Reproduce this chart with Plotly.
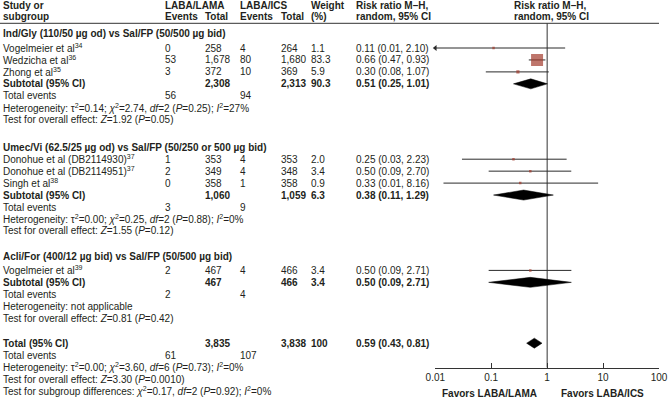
import plotly.graph_objects as go

# ---- data ----
groups = ["Ind/Gly (110/50 µg od) vs Sal/FP (50/500 µg bid)",
          "Umec/Vi (62.5/25 µg od) vs Sal/FP (50/250 or 500 µg bid)",
          "Acli/For (400/12 µg bid) vs Sal/FP (50/500 µg bid)"]

study_names = ["Vogelmeier et al", "Wedzicha et al", "Zhong et al",
               "Donohue et al (DB2114930)", "Donohue et al (DB2114951)",
               "Singh et al", "Vogelmeier et al"]
study_refs = ["34", "36", "35", "37", "37", "38", "39"]
study_group = [0, 0, 0, 1, 1, 1, 2]
lama_events = [0, 53, 3, 1, 2, 0, 2]
lama_total = [258, 1678, 372, 353, 349, 358, 467]
ics_events = [4, 80, 10, 4, 4, 1, 4]
ics_total = [264, 1680, 369, 353, 348, 358, 466]
weight = [1.1, 83.3, 5.9, 2.0, 3.4, 0.9, 3.4]
rr = [0.11, 0.66, 0.30, 0.25, 0.50, 0.33, 0.50]
# lower limits: both print as 0.01, but the first runs off the axis (arrow)
rr_lo = [0.006, 0.47, 0.08, 0.03, 0.09, 0.014, 0.09]
rr_hi = [2.10, 0.93, 1.07, 2.23, 2.70, 8.16, 2.71]

sub_lama_total = [2308, 1060, 467]
sub_ics_total = [2313, 1059, 466]
sub_weight = [90.3, 6.3, 3.4]
sub_lama_events = [56, 3, 2]
sub_ics_events = [94, 9, 4]
sub_rr = [0.51, 0.38, 0.50]
sub_lo = [0.25, 0.11, 0.09]
sub_hi = [1.01, 1.29, 2.71]
sub_tau2 = [0.14, 0.00, None]
sub_chi2 = [2.74, 0.25, None]
sub_df = [2, 2, None]
sub_p = [0.25, 0.88, None]
sub_i2 = [27, 0, None]
sub_z = [1.92, 1.55, 0.81]
sub_zp = ["0.05", "0.12", "0.42"]

tot_lama_total, tot_ics_total, tot_weight = 3835, 3838, 100
tot_lama_events, tot_ics_events = 61, 107
tot_rr, tot_lo, tot_hi = 0.59, 0.43, 0.81
tot_tau2, tot_chi2, tot_df, tot_p, tot_i2 = 0.00, 3.60, 6, 0.73, 0
tot_z, tot_zp = 3.30, "0.0010"
diff_chi2, diff_df, diff_p, diff_i2 = 0.17, 2, 0.92, 0

ticks = [0.01, 0.1, 1, 10, 100]
tick_labels = ["0.01", "0.1", "1", "10", "100"]

# ---- style ----
W, H = 668, 400
TXT = "#231f20"
FONT = "Liberation Sans, Arial, sans-serif"
FS = 10
BOX = "#a23b2c"
STEP = 11.95
TITLE_GAP = [14.5, 11.5, 13.5]
GROUP_GAP = [0, 28, 26]
TOTAL_GAP = 25
AX_Y = 367.5
X0, X1 = 435.3, 659
COL_EV1, COL_T1, COL_EV2, COL_T2, COL_W, COL_RR = 163, 203, 238, 279, 309, 354

annots = []


def txt(x, y, s, bold=False, anchor="left"):
    if bold:
        s = "<b>" + s + "</b>"
    annots.append(dict(x=x / W, y=y, xref="paper", yref="y", text=s,
                       showarrow=False, xanchor=anchor, yanchor="middle",
                       font=dict(family=FONT, size=FS, color=TXT)))


def het_text(tau2, chi2, df, p, i2):
    return ("Heterogeneity: τ<sup>2</sup>=%.2f; <i>χ</i><sup>2</sup>=%.2f, "
            "<i>df</i>=%d (<i>P</i>=%.2f); <i>I</i><sup>2</sup>=%d%%" % (tau2, chi2, df, p, i2))


def ci_text(a, b, c):
    return "%.2f (%.2f, %.2f)" % (a, b, c)


# header
for yy, a, b in [(5, "Study or", "LABA/LAMA"), (16.5, "subgroup", "Events")]:
    txt(1, yy, a, True)
    txt(COL_EV1, yy, b, True)
txt(COL_T1, 16.5, "Total", True)
txt(COL_EV2, 5, "LABA/ICS", True)
txt(COL_EV2, 16.5, "Events", True)
txt(COL_T2, 16.5, "Total", True)
txt(COL_W, 5, "Weight", True)
txt(COL_W, 16.5, "(%)", True)
for xx in [COL_RR, 512]:
    txt(xx, 5, "Risk ratio M–H,", True)
    txt(xx, 16.5, "random, 95% CI", True)

# rows
study_y = [0] * len(rr)
sub_y = [0] * 3
y = 33.5
for g in range(3):
    y += GROUP_GAP[g]
    txt(1, y, groups[g], True)
    y += TITLE_GAP[g]
    for i in range(len(rr)):
        if study_group[i] != g:
            continue
        study_y[i] = y
        txt(1, y, study_names[i] + "<sup>" + study_refs[i] + "</sup>")
        txt(COL_EV1, y, str(lama_events[i]))
        txt(COL_T1, y, f"{lama_total[i]:,}")
        txt(COL_EV2, y, str(ics_events[i]))
        txt(COL_T2, y, f"{ics_total[i]:,}")
        txt(COL_W, y, "%.1f" % weight[i])
        txt(COL_RR, y, ci_text(rr[i], rr_lo[i], rr_hi[i]))
        y += STEP
    sub_y[g] = y
    txt(1, y, "Subtotal (95% CI)", True)
    txt(COL_T1, y, f"{sub_lama_total[g]:,}", True)
    txt(COL_T2, y, f"{sub_ics_total[g]:,}", True)
    txt(COL_W, y, "%.1f" % sub_weight[g], True)
    txt(COL_RR, y, ci_text(sub_rr[g], sub_lo[g], sub_hi[g]), True)
    y += STEP
    txt(1, y, "Total events")
    txt(COL_EV1, y, str(sub_lama_events[g]))
    txt(COL_EV2, y, str(sub_ics_events[g]))
    y += STEP
    if sub_tau2[g] is None:
        txt(1, y, "Heterogeneity: not applicable")
    else:
        txt(1, y, het_text(sub_tau2[g], sub_chi2[g], sub_df[g], sub_p[g], sub_i2[g]))
    y += STEP
    txt(1, y, "Test for overall effect: <i>Z</i>=%.2f (<i>P</i>=%s)" % (sub_z[g], sub_zp[g]))

y += TOTAL_GAP
tot_y = y
txt(1, y, "Total (95% CI)", True)
txt(COL_T1, y, f"{tot_lama_total:,}", True)
txt(COL_T2, y, f"{tot_ics_total:,}", True)
txt(COL_W, y, str(tot_weight), True)
txt(COL_RR, y, ci_text(tot_rr, tot_lo, tot_hi), True)
y += STEP
txt(1, y, "Total events")
txt(COL_EV1, y, str(tot_lama_events))
txt(COL_EV2, y, str(tot_ics_events))
y += STEP
txt(1, y, het_text(tot_tau2, tot_chi2, tot_df, tot_p, tot_i2))
y += STEP
txt(1, y, "Test for overall effect: <i>Z</i>=%.2f (<i>P</i>=%s)" % (tot_z, tot_zp))
y += STEP
txt(1, y, "Test for subgroup differences: <i>χ</i><sup>2</sup>=%.2f, <i>df</i>=%d "
          "(<i>P</i>=%.2f); <i>I</i><sup>2</sup>=%d%%" % (diff_chi2, diff_df, diff_p, diff_i2))

txt(489, 393, "Favors LABA/LAMA", True, "center")
txt(602, 393, "Favors LABA/ICS", True, "center")

fig = go.Figure()

# line of no effect
fig.add_trace(go.Scatter(x=[1, 1], y=[23.3, AX_Y], mode="lines",
                         line=dict(color="#333", width=1), hoverinfo="skip"))

# confidence intervals, clipped to the axis range
ax_min, ax_max = ticks[0], ticks[-1]
cx, cy = [], []
for i in range(len(rr)):
    cx += [max(rr_lo[i], ax_min), min(rr_hi[i], ax_max), None]
    cy += [study_y[i], study_y[i], None]
fig.add_trace(go.Scatter(x=cx, y=cy, mode="lines", line=dict(color="#2a2a2a", width=1),
                         hoverinfo="skip"))

# arrows for intervals running past the axis
arr_y = [study_y[i] for i in range(len(rr)) if rr_lo[i] < ax_min]
fig.add_trace(go.Scatter(x=[ax_min] * len(arr_y), y=arr_y, mode="markers",
                         marker=dict(symbol="triangle-left", size=5, color="#2a2a2a"),
                         cliponaxis=False, hoverinfo="skip"))

# weighted boxes
sizes = [max(2.5, 12 * (w / max(weight)) ** 0.5) for w in weight]
fig.add_trace(go.Scatter(x=rr, y=study_y, mode="markers",
                         marker=dict(symbol="square", size=sizes, color=BOX, line=dict(width=0)),
                         hoverinfo="skip"))

# pooled diamonds
dh = 5
for est, lo, hi, yy in list(zip(sub_rr, sub_lo, sub_hi, sub_y)) + [(tot_rr, tot_lo, tot_hi, tot_y)]:
    fig.add_trace(go.Scatter(x=[lo, est, hi, est, lo], y=[yy, yy - dh, yy, yy + dh, yy],
                             mode="lines", fill="toself", fillcolor="black",
                             line=dict(color="black", width=0.5), hoverinfo="skip"))

fig.update_layout(
    width=W, height=H, margin=dict(l=0, r=0, t=0, b=0),
    paper_bgcolor="white", plot_bgcolor="white", showlegend=False,
    annotations=annots,
    shapes=[dict(type="line", xref="paper", yref="y", x0=0, x1=X1 / W, y0=23.3, y1=23.3,
                 line=dict(color="#333", width=1))],
    xaxis=dict(type="log", range=[-2, 2], domain=[X0 / W, X1 / W], anchor="free",
               position=(H - AX_Y) / H, showline=True, linecolor="#333", linewidth=1,
               ticks="inside", ticklen=5, tickcolor="#333", tickvals=ticks, ticktext=tick_labels,
               ticklabeloverflow="allow", automargin=False,
               showgrid=False, zeroline=False,
               tickfont=dict(family=FONT, size=FS, color=TXT)),
    yaxis=dict(range=[H, 0], domain=[0, 1], visible=False, showgrid=False, zeroline=False),
)

fig.write_html("out.html", config={"displayModeBar": False},
               post_script="document.body.style.margin = '0';")
